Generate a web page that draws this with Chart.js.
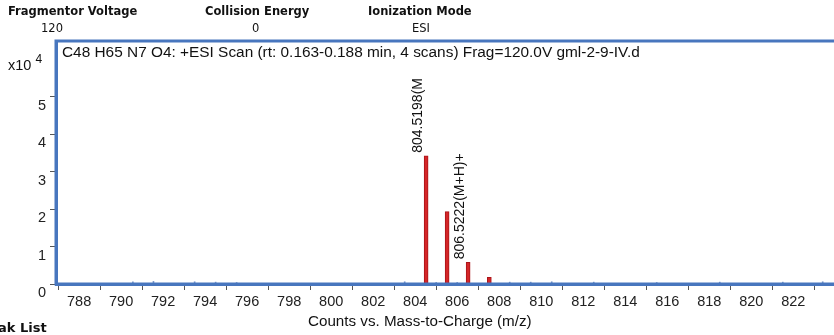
<!DOCTYPE html>
<html>
<head>
<meta charset="utf-8">
<script src="https://cdn.jsdelivr.net/npm/chart.js@4.4.0/dist/chart.umd.min.js"></script>
<style>
  body { margin: 0; width: 834px; height: 335px; overflow: hidden; background: #fff; position: relative; font-family: "Liberation Sans", Arial, sans-serif; }
  #wrap { position: absolute; left: 0; top: 0; width: 860px; height: 335px; }
  .hd { position: absolute; font-family: "DejaVu Sans", Verdana, sans-serif; font-size: 11.5px; color: #111; white-space: nowrap; }
  .hd b { font-weight: bold; }
  .lbl { position: absolute; white-space: nowrap; color: #111; }
</style>
</head>
<body>
<div id="wrap"><canvas id="plot" width="860" height="335"></canvas></div>

<div class="hd" style="left:8px; top:4px;"><b>Fragmentor Voltage</b></div>
<div class="hd" style="left:41px; top:21px;">120</div>
<div class="hd" style="left:205px; top:4px;"><b>Collision Energy</b></div>
<div class="hd" style="left:252px; top:21px;">0</div>
<div class="hd" style="left:368px; top:4px;"><b>Ionization Mode</b></div>
<div class="hd" style="left:412px; top:21px;">ESI</div>

<div class="lbl" style="left:8px; top:53px; font-size:14.5px;">x10 <sup style="font-size:12px; position:relative; top:-1px;">4</sup></div>
<div class="lbl" style="left:62px; top:43px; font-size:15.4px;">C48 H65 N7 O4: +ESI Scan (rt: 0.163-0.188 min, 4 scans) Frag=120.0V gml-2-9-IV.d</div>
<div class="lbl" style="left:308px; top:312px; font-size:15.2px;">Counts vs. Mass-to-Charge (m/z)</div>
<div class="hd" style="left:-2px; top:320px; font-size:13px;"><b>ak List</b></div>

<script>
// peaks
const peakMz = [804.52, 805.52, 806.52, 807.53];
const peakCounts = [34200, 19300, 5800, 1800];
const peakLabels = ['804.5198(M', '', '806.5222(M+H)+', ''];

// tiny baseline noise
const noiseMz = [790.56, 791.54, 793.5, 794.5, 795.5, 803.5, 805.0, 806.0, 808.5, 809.5, 810.5, 812.5, 815.5, 818.5, 821.5, 823.4];
const noiseCounts = [600, 700, 600, 500, 400, 600, 400, 400, 500, 500, 600, 500, 400, 500, 500, 600];

// axis ticks
const xTicks = [788, 790, 792, 794, 796, 798, 800, 802, 804, 806, 808, 810, 812, 814, 816, 818, 820, 822];
const yTicks = [0, 10000, 20000, 30000, 40000, 50000];

const frameBlue = 'rgb(72,118,190)';

const peakData = peakMz.map((m, i) => ({x: m, y: peakCounts[i]}));
const noiseData = noiseMz.map((m, i) => ({x: m, y: noiseCounts[i]}));

const framePlugin = {
  id: 'frame',
  afterDatasetsDraw(chart) {
    const a = chart.chartArea;
    const ctx = chart.ctx;
    ctx.save();
    ctx.strokeStyle = frameBlue;
    ctx.lineWidth = 3;
    ctx.strokeRect(a.left, a.top, a.right - a.left, a.bottom - a.top);
    // peak annotations, vertical text
    const xs = chart.scales.x, ys = chart.scales.y;
    ctx.fillStyle = '#111';
    ctx.font = '14px "Liberation Sans", Arial, sans-serif';
    ctx.textAlign = 'left';
    ctx.textBaseline = 'bottom';
    peakLabels.forEach((t, i) => {
      if (!t) return;
      const px = xs.getPixelForValue(peakMz[i]) - 1;
      const py = ys.getPixelForValue(peakCounts[i]) - 3;
      ctx.save();
      ctx.translate(px, py);
      ctx.rotate(-Math.PI / 2);
      ctx.fillText(t, 0, 0);
      ctx.restore();
    });
    ctx.restore();
  }
};

const data = {
  datasets: [{
    label: 'noise',
    data: noiseData,
    backgroundColor: 'rgb(120,150,200)',
    barThickness: 1,
    grouped: false
  }, {
    label: 'peaks',
    data: peakData,
    backgroundColor: 'rgb(212,38,40)',
    borderColor: 'rgb(170,20,25)',
    borderWidth: {left: 1, right: 1, top: 1, bottom: 0},
    barThickness: 4,
    grouped: false
  }]
};

const tickFont = {family: '"Liberation Sans", Arial, sans-serif', size: 14.5};

const config = {
  type: 'bar',
  data: data,
  options: {
    responsive: false,
    animation: false,
    layout: {padding: {top: 41, right: 10, left: 0, bottom: 0}},
    plugins: {legend: {display: false}, tooltip: {enabled: false}},
    scales: {
      x: {
        type: 'linear',
        offset: false,
        min: 786.9,
        max: 824.7,
        afterFit: s => { s.height = 51; },
        afterBuildTicks: s => { s.ticks = xTicks.map(v => ({value: v})); },
        ticks: {font: tickFont, color: '#222', padding: 3, maxRotation: 0, autoSkip: false},
        grid: {drawOnChartArea: false, tickLength: 6, tickColor: '#555', tickWidth: 1},
        border: {display: true, color: frameBlue, width: 3}
      },
      y: {
        min: 0,
        max: 64800,
        afterFit: s => { s.width = 56; },
        afterBuildTicks: s => { s.ticks = yTicks.map(v => ({value: v})); },
        ticks: {font: tickFont, color: '#222', padding: 4, labelOffset: 9, autoSkip: false,
          callback: v => v / 10000},
        grid: {drawOnChartArea: false, tickLength: 6, tickColor: '#555', tickWidth: 1},
        border: {display: true, color: frameBlue, width: 3}
      }
    }
  },
  plugins: [framePlugin]
};

let ctx = document.getElementById('plot').getContext('2d');
let chart = new Chart(ctx, config);
</script>
</body>
</html>
